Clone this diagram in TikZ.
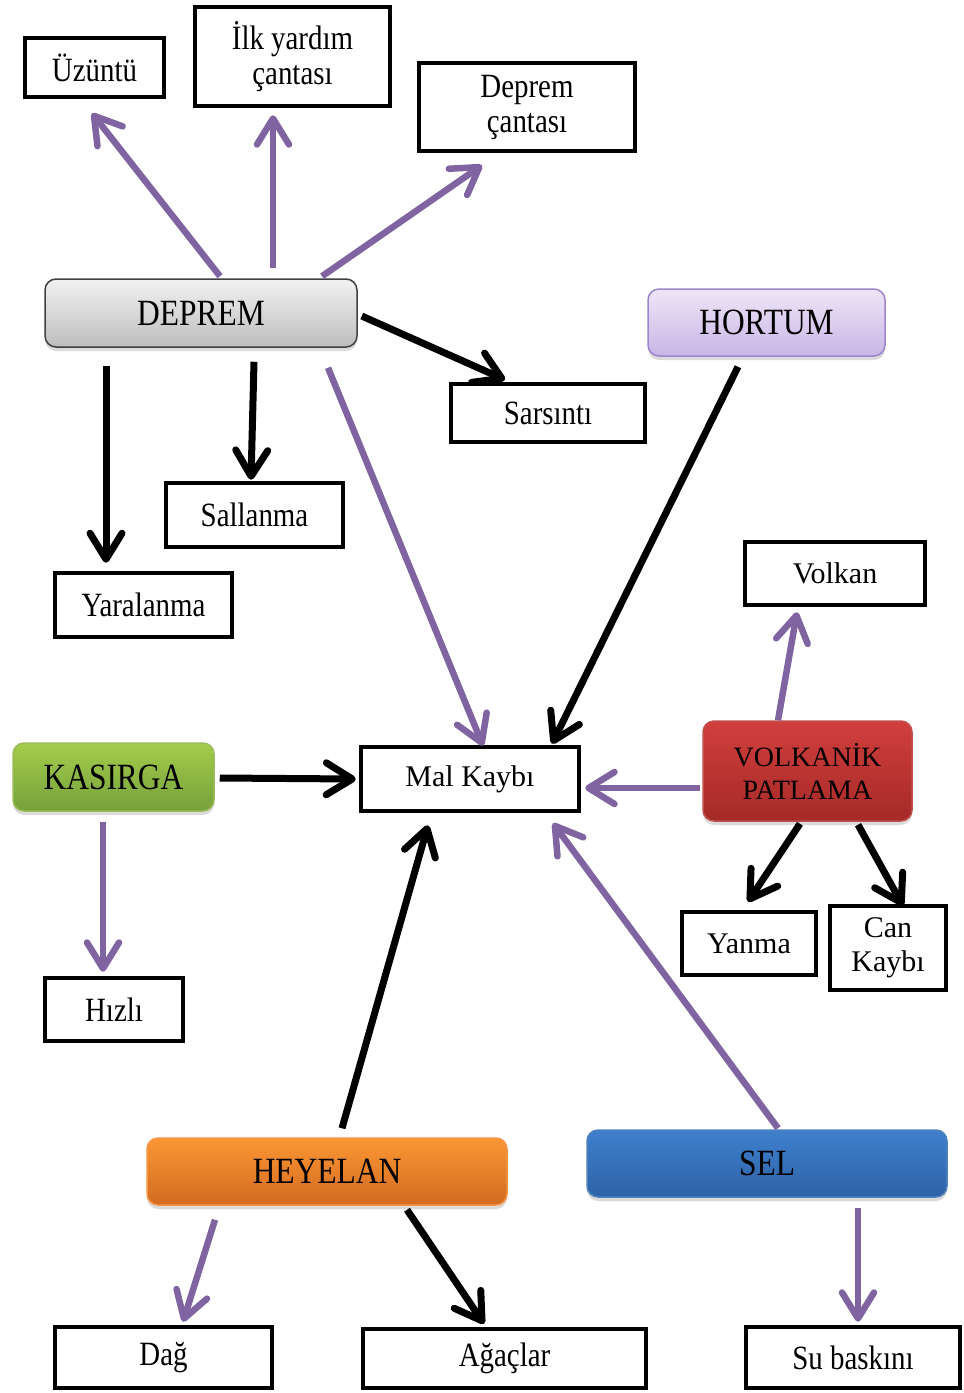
\documentclass[tikz,border=0pt]{standalone}
\usepackage{fontspec}
\setmainfont{Liberation Serif}
\newfontfamily\condfont{Liberation Serif}[FakeStretch=0.85]
\usetikzlibrary{arrows.meta,shadows}

\definecolor{purp}{HTML}{8064A2}
\definecolor{grayTop}{HTML}{F2F2F2}
\definecolor{grayBot}{HTML}{BDBDBD}
\definecolor{lavTop}{HTML}{EEE6F8}
\definecolor{lavBot}{HTML}{C9B5E5}
\definecolor{lavEdge}{HTML}{9D85CC}
\definecolor{grnTop}{HTML}{A3CD4B}
\definecolor{grnBot}{HTML}{76A03A}
\definecolor{grnEdge}{HTML}{9BBB59}
\definecolor{redTop}{HTML}{D13F3D}
\definecolor{redBot}{HTML}{A52A28}
\definecolor{redEdge}{HTML}{C0504D}
\definecolor{orgTop}{HTML}{FA9633}
\definecolor{orgBot}{HTML}{D36B21}
\definecolor{orgEdge}{HTML}{F79646}
\definecolor{bluTop}{HTML}{3F80CD}
\definecolor{bluBot}{HTML}{2E62A6}
\definecolor{bluEdge}{HTML}{4F81BD}

\tikzset{
  box/.style={draw=black, line width=4.5pt, fill=white, inner sep=0pt, align=center},
  cnd/.style={font=\condfont\fontsize{34}{35}\selectfont},
  nrm/.style={font=\fontsize{30}{34}\selectfont},
  cbox/.style={rounded corners=11pt, line width=1.5pt, inner sep=0pt, align=center,
    font=\condfont\fontsize{37}{38}\selectfont,
    drop shadow={shadow xshift=0pt, shadow yshift=-4pt, opacity=0.14, fill=black}},
  tip/.style={-{Straight Barb[length=26pt, width=32pt, line cap=round, line join=round]}},
  parr/.style={draw=purp, line width=6.5pt, tip},
  barr/.style={draw=black, line width=7pt, tip},
}

\begin{document}
\begin{tikzpicture}[x=1pt, y=-1pt]
\path[use as bounding box, fill=white] (0,0) rectangle (964,1393);

% outcome boxes
\node[box, cnd, minimum width=139pt, minimum height=59pt] (uz)  at (94.5,67.5) {Üzüntü};
\node[box, cnd, minimum width=195pt, minimum height=99pt] (ilk) at (292.5,56.5) {İlk yardım\\çantası};
\node[box, cnd, minimum width=216pt, minimum height=88pt] (dc)  at (527,107) {Deprem\\çantası};
\node[box, cnd, minimum width=194pt, minimum height=58pt] (sar) at (548,413) {Sarsıntı};
\node[box, cnd, minimum width=177pt, minimum height=64pt] (sal) at (254.5,515) {Sallanma};
\node[box, cnd, minimum width=177pt, minimum height=64pt] (yar) at (143.5,605) {Yaralanma};
\node[box, nrm, minimum width=180pt, minimum height=63pt] (vol) at (835,573.5) {Volkan};
\node[box, nrm, minimum width=218pt, minimum height=64pt] (mal) at (470,779) {Mal Kaybı};
\node[box, nrm, minimum width=134pt, minimum height=63pt] (yan) at (749,943.5) {Yanma};
\node[box, nrm, minimum width=116pt, minimum height=84pt] (can) at (888,948) {Can\\Kaybı};
\node[box, cnd, minimum width=138pt, minimum height=63pt] (hiz) at (114,1009.5) {Hızlı};
\node[box, cnd, minimum width=217pt, minimum height=61pt] (dag) at (163.5,1357.5) {Dağ};
\node[box, cnd, minimum width=283pt, minimum height=59pt] (aga) at (504.5,1358.5) {Ağaçlar};
\node[box, cnd, minimum width=214pt, minimum height=61pt] (su)  at (853,1357.5) {Su baskını};

% hazard boxes
\node[cbox, draw=black!75, top color=grayTop, bottom color=grayBot,
      minimum width=312pt, minimum height=68pt] (dep) at (201,313) {DEPREM};
\node[cbox, draw=lavEdge, top color=lavTop, bottom color=lavBot,
      minimum width=237pt, minimum height=67pt] (hor) at (766.5,322.5) {HORTUM};
\node[cbox, draw=grnEdge, top color=grnTop, bottom color=grnBot,
      minimum width=201pt, minimum height=68pt] (kas) at (113.5,777) {KASIRGA};
\node[cbox, draw=redEdge, top color=redTop, bottom color=redBot,
      font=\fontsize{28}{33}\selectfont,
      minimum width=209pt, minimum height=100pt] (vp) at (807.5,771) {VOLKANİK\\PATLAMA};
\node[cbox, draw=orgEdge, top color=orgTop, bottom color=orgBot,
      minimum width=360pt, minimum height=67pt] (hey) at (327,1171.5) {HEYELAN};
\node[cbox, draw=bluEdge, top color=bluTop, bottom color=bluBot,
      minimum width=360pt, minimum height=67pt] (sel) at (767,1163.5) {SEL};

% purple connectors
\draw[parr] ([xshift=19pt,yshift=2pt]dep.north)    -- ([xshift=-2.5pt,yshift=-14pt]uz.south);
\draw[parr] ([xshift=72pt,yshift=10pt]dep.north)   -- ([xshift=-19.5pt,yshift=-7pt]ilk.south);
\draw[parr] ([xshift=121pt,yshift=2pt]dep.north)   -- ([xshift=-45pt,yshift=-12pt]dc.south);
\draw[parr] ([xshift=127pt,yshift=-20pt]dep.south) -- ([xshift=13pt,yshift=-1pt]mal.north);
\draw[parr] ([xshift=-10.5pt,yshift=-10pt]kas.south) -- ([xshift=-11pt,yshift=4pt]hiz.north);
\draw[parr] ([xshift=-2pt,yshift=-17pt]vp.west)    -- ([xshift=4pt,yshift=-9pt]mal.east);
\draw[parr] ([xshift=-29.5pt]vp.north)             -- ([xshift=-38pt,yshift=-5pt]vol.south);
\draw[parr] ([xshift=11pt,yshift=1pt]sel.north)    -- ([xshift=83pt,yshift=-10pt]mal.south);
\draw[parr] ([xshift=-112pt,yshift=-14pt]hey.south) -- ([xshift=19.5pt,yshift=3pt]dag.north);
\draw[parr] ([xshift=91pt,yshift=-10pt]sel.south)  -- ([xshift=5pt,yshift=3pt]su.north);

% black connectors
\draw[barr] ([xshift=4pt,yshift=-3pt]dep.east)     -- ([xshift=-43pt,yshift=2pt]sar.north);
\draw[barr] ([xshift=-95pt,yshift=-18pt]dep.south) -- ([xshift=-37.5pt,yshift=8pt]yar.north);
\draw[barr] ([xshift=53pt,yshift=-14pt]dep.south)  -- ([xshift=-3.5pt,yshift=1pt]sal.north);
\draw[barr] ([xshift=-28.5pt,yshift=-10pt]hor.south) -- ([xshift=82pt,yshift=1pt]mal.north);
\draw[barr] ([xshift=5pt,yshift=-1pt]kas.east)     -- ([xshift=-3pt]mal.west);
\draw[barr] ([xshift=15pt,yshift=9pt]hey.north)    -- ([xshift=-42pt,yshift=-12pt]mal.south);
\draw[barr] ([xshift=80pt,yshift=-4pt]hey.south)   -- ([xshift=-20.5pt,yshift=3pt]aga.north);
\draw[barr] ([xshift=-7.5pt,yshift=-2pt]vp.south)  -- ([xshift=-1pt,yshift=8pt]yan.north);
\draw[barr] ([xshift=50.5pt,yshift=-3pt]vp.south)  -- ([xshift=15pt,yshift=-2pt]can.north);
\end{tikzpicture}
\end{document}
